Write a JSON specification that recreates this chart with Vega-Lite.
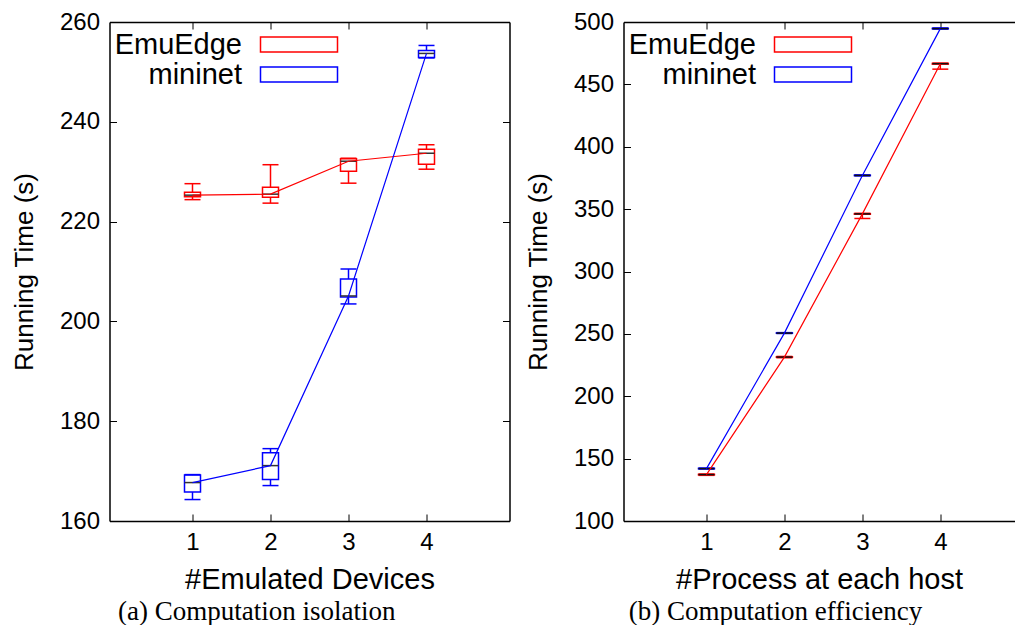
{
  "$schema": "https://vega.github.io/schema/vega-lite/v6.json",
  "background": "white",
  "padding": {"left": 10.5, "top": 10, "right": 0, "bottom": 0},
  "autosize": {"type": "pad"},
  "bounds": "flush",
  "spacing": 114,
  "datasets": {
    "isolation": [
      {"series": "EmuEdge", "n": 1, "lo": 224.4, "q1": 225.0, "med": 225.3, "q3": 225.9, "hi": 227.6},
      {"series": "EmuEdge", "n": 2, "lo": 223.7, "q1": 224.9, "med": 225.5, "q3": 226.9, "hi": 231.4},
      {"series": "EmuEdge", "n": 3, "lo": 227.7, "q1": 230.1, "med": 232.1, "q3": 232.6, "hi": 232.7},
      {"series": "EmuEdge", "n": 4, "lo": 230.5, "q1": 231.5, "med": 233.7, "q3": 234.5, "hi": 235.4},
      {"series": "mininet", "n": 1, "lo": 164.3, "q1": 165.8, "med": 167.7, "q3": 169.2, "hi": 169.3},
      {"series": "mininet", "n": 2, "lo": 167.1, "q1": 168.3, "med": 171.1, "q3": 173.7, "hi": 174.5},
      {"series": "mininet", "n": 3, "lo": 203.5, "q1": 204.9, "med": 205.1, "q3": 208.5, "hi": 210.5},
      {"series": "mininet", "n": 4, "lo": 252.8, "q1": 252.9, "med": 253.7, "q3": 254.3, "hi": 255.3}
    ],
    "efficiency": [
      {"series": "EmuEdge", "n": 1, "lo": 136.6, "q1": 137.0, "med": 137.2, "q3": 137.4, "hi": 137.6},
      {"series": "EmuEdge", "n": 2, "lo": 230.9, "q1": 231.2, "med": 231.4, "q3": 231.6, "hi": 231.9},
      {"series": "EmuEdge", "n": 3, "lo": 342.5, "q1": 345.9, "med": 346.2, "q3": 346.4, "hi": 346.6},
      {"series": "EmuEdge", "n": 4, "lo": 462.2, "q1": 466.2, "med": 466.6, "q3": 466.8, "hi": 467.0},
      {"series": "mininet", "n": 1, "lo": 141.7, "q1": 141.9, "med": 142.0, "q3": 142.2, "hi": 142.4},
      {"series": "mininet", "n": 2, "lo": 250.3, "q1": 250.5, "med": 250.6, "q3": 250.8, "hi": 251.0},
      {"series": "mininet", "n": 3, "lo": 376.7, "q1": 376.9, "med": 377.0, "q3": 377.2, "hi": 377.4},
      {"series": "mininet", "n": 4, "lo": 494.4, "q1": 494.6, "med": 494.7, "q3": 494.9, "hi": 495.2}
    ]
  },
  "config": {
    "view": {"stroke": null},
    "font": "Liberation Sans",
    "axis": {
      "domainColor": "black",
      "domainWidth": 1.5,
      "tickColor": "black",
      "tickWidth": 1,
      "tickSize": -7,
      "grid": false,
      "labelFont": "Liberation Sans",
      "labelFontSize": 24,
      "labelColor": "black",
      "titleFont": "Liberation Sans",
      "titleFontWeight": "normal",
      "titleColor": "black"
    },
    "axisX": {"titleFontSize": 29},
    "axisY": {"titleFontSize": 26},
    "title": {
      "orient": "bottom",
      "font": "Liberation Serif",
      "fontSize": 27,
      "fontWeight": "normal",
      "color": "black",
      "frame": "bounds",
      "anchor": "middle",
      "offset": 5
    },
    "legend": {
      "orient": "none",
      "legendX": 175,
      "legendY": 8,
      "title": null,
      "symbolType": "M-3.5,-0.68H3.5V0.68H-3.5Z",
      "symbolSize": 484,
      "symbolStrokeWidth": 1.5,
      "symbolFillColor": "transparent",
      "labelFont": "Liberation Sans",
      "labelFontSize": 29,
      "labelColor": "black",
      "labelAlign": "right",
      "labelOffset": -71.5,
      "rowPadding": -1
    }
  },
  "resolve": {"legend": {"color": "independent"}},
  "hconcat": [
    {
      "width": 400,
      "height": 499,
      "title": {"text": "(a) Computation isolation", "dx": -4},
      "data": {"name": "isolation"},
      "encoding": {
        "x": {"field": "n", "type": "quantitative", "scale": {"domain": [0, 5], "nice": false, "zero": false}, "axis": null},
        "color": {
          "field": "series", "type": "nominal",
          "scale": {"domain": ["EmuEdge", "mininet"], "range": ["#ff0000", "#0000ff"]}
        }
      },
      "layer": [
        {
          "mark": {"type": "bar", "orient": "vertical", "size": 16, "filled": false, "strokeWidth": 1.5},
          "encoding": {
            "x": {"field": "n", "type": "quantitative", "axis": {"orient": "bottom", "values": [1, 2, 3, 4], "title": "#Emulated Devices", "labelPadding": 16, "titlePadding": 11}},
            "y": {"field": "q1", "type": "quantitative", "scale": {"domain": [160, 260], "nice": false, "zero": false}, "axis": {"orient": "left", "values": [160, 180, 200, 220, 240, 260], "title": "Running Time (s)", "labelPadding": 17, "titlePadding": 22}},
            "y2": {"field": "q3"}
          }
        },
        {
          "mark": {"type": "rule", "strokeWidth": 1.5},
          "encoding": {
            "y": {"field": "lo", "type": "quantitative", "axis": null},
            "y2": {"field": "q1"}
          }
        },
        {
          "mark": {"type": "rule", "strokeWidth": 1.5},
          "encoding": {
            "y": {"field": "q3", "type": "quantitative", "axis": null},
            "y2": {"field": "hi"}
          }
        },
        {
          "mark": {"type": "rule", "strokeWidth": 1.5, "xOffset": -8, "x2Offset": 8},
          "encoding": {
            "x2": {"field": "n"},
            "y": {"field": "lo", "type": "quantitative", "axis": null}
          }
        },
        {
          "mark": {"type": "rule", "strokeWidth": 1.5, "xOffset": -8, "x2Offset": 8},
          "encoding": {
            "x2": {"field": "n"},
            "y": {"field": "hi", "type": "quantitative", "axis": null}
          }
        },
        {
          "mark": {"type": "rule", "strokeWidth": 1.5, "xOffset": -8, "x2Offset": 8},
          "encoding": {
            "x2": {"field": "n"},
            "y": {"field": "med", "type": "quantitative", "axis": null},
            "color": {"value": "#333333"}
          }
        },
        {
          "mark": {"type": "line", "strokeWidth": 1.2},
          "encoding": {
            "x": {"field": "n", "type": "quantitative", "axis": {"orient": "top", "values": [1, 2, 3, 4], "labels": false, "title": null}},
            "y": {"field": "med", "type": "quantitative", "axis": {"orient": "right", "values": [160, 180, 200, 220, 240, 260], "labels": false, "title": null}}
          }
        }
      ],
      "resolve": {"axis": {"x": "independent", "y": "independent"}}
    },
    {
      "width": 391,
      "height": 499,
      "title": {"text": "(b) Computation efficiency", "dx": 5.5},
      "data": {"name": "efficiency"},
      "encoding": {
        "x": {"field": "n", "type": "quantitative", "scale": {"domain": [0, 4.8875], "nice": false, "zero": false}, "axis": null},
        "color": {
          "field": "series", "type": "nominal",
          "scale": {"domain": ["EmuEdge", "mininet"], "range": ["#ff0000", "#0000ff"]}
        }
      },
      "layer": [
        {
          "mark": {"type": "bar", "orient": "vertical", "size": 16, "filled": false, "strokeWidth": 1.5},
          "encoding": {
            "x": {"field": "n", "type": "quantitative", "axis": {"orient": "bottom", "values": [1, 2, 3, 4], "title": "#Process at each host", "labelPadding": 16, "titlePadding": 11}},
            "y": {"field": "q1", "type": "quantitative", "scale": {"domain": [100, 500], "nice": false, "zero": false}, "axis": {"orient": "left", "values": [100, 150, 200, 250, 300, 350, 400, 450, 500], "title": "Running Time (s)", "labelPadding": 17, "titlePadding": 22}},
            "y2": {"field": "q3"}
          }
        },
        {
          "mark": {"type": "rule", "strokeWidth": 1.5},
          "encoding": {
            "y": {"field": "lo", "type": "quantitative", "axis": null},
            "y2": {"field": "q1"}
          }
        },
        {
          "mark": {"type": "rule", "strokeWidth": 1.5},
          "encoding": {
            "y": {"field": "q3", "type": "quantitative", "axis": null},
            "y2": {"field": "hi"}
          }
        },
        {
          "mark": {"type": "rule", "strokeWidth": 1.5, "xOffset": -8, "x2Offset": 8},
          "encoding": {
            "x2": {"field": "n"},
            "y": {"field": "lo", "type": "quantitative", "axis": null}
          }
        },
        {
          "mark": {"type": "rule", "strokeWidth": 1.5, "xOffset": -8, "x2Offset": 8},
          "encoding": {
            "x2": {"field": "n"},
            "y": {"field": "hi", "type": "quantitative", "axis": null}
          }
        },
        {
          "mark": {"type": "rule", "strokeWidth": 1.5, "xOffset": -8, "x2Offset": 8},
          "encoding": {
            "x2": {"field": "n"},
            "y": {"field": "med", "type": "quantitative", "axis": null},
            "color": {"value": "#111111"}
          }
        },
        {
          "mark": {"type": "line", "strokeWidth": 1.2},
          "encoding": {
            "x": {"field": "n", "type": "quantitative", "axis": {"orient": "top", "values": [1, 2, 3, 4], "labels": false, "title": null}},
            "y": {"field": "med", "type": "quantitative", "axis": null}
          }
        }
      ],
      "resolve": {"axis": {"x": "independent", "y": "independent"}}
    }
  ]
}
